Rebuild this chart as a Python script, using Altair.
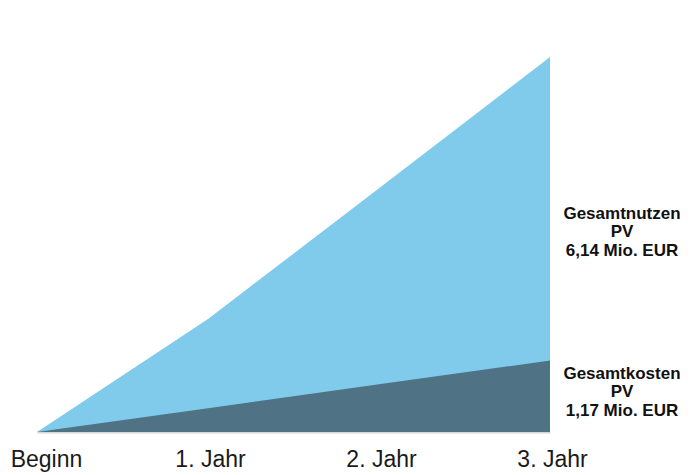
import altair as alt
import pandas as pd

# Data
periods = [0, 1, 2, 3]
period_labels = ["Beginn", "1. Jahr", "2. Jahr", "3. Jahr"]
nutzen = [0.0, 1.85, 3.99, 6.14]   # Gesamtnutzen PV (Mio. EUR, cumulative)
kosten = [0.0, 0.39, 0.78, 1.17]   # Gesamtkosten PV (Mio. EUR, cumulative)
label_texts = [
    "Gesamtnutzen\nPV\n6,14 Mio. EUR",
    "Gesamtkosten\nPV\n1,17 Mio. EUR",
]

df = pd.DataFrame({"t": periods, "nutzen": nutzen, "kosten": kosten})

label_expr = "datum.value == 0 ? 'Beginn' : datum.value + '. Jahr'"

x = alt.X(
    "t:Q",
    scale=alt.Scale(domain=[0, 3], nice=False, zero=False),
    axis=alt.Axis(
        values=periods,
        labelExpr=label_expr,
        title=None,
        ticks=False,
        grid=False,
        domain=True,
        domainColor="#d6d6d6",
        domainWidth=2,
        labelFont="Liberation Sans",
        labelFontSize=23,
        labelColor="#1a1a1a",
        labelPadding=16,
        labelFlush=False,
        labelOffset={"condition": {"test": "datum.value == 0", "value": 9}, "value": 2},
    ),
)
y_scale = alt.Scale(domain=[0, 6.14], nice=False)

base = alt.Chart(df)

benefit = base.mark_area(color="#80cbeb", opacity=1).encode(
    x=x,
    y=alt.Y("nutzen:Q", scale=y_scale, axis=None),
)
cost = base.mark_area(color="#4f7384", opacity=1).encode(
    x=x,
    y=alt.Y("kosten:Q", scale=y_scale, axis=None),
)

ann = pd.DataFrame({
    "t": [3, 3],
    "v": [nutzen[-1], kosten[-1]],
    "txt": label_texts,
})

text_style = dict(
    font="Liberation Sans", fontSize=17, fontWeight="bold", color="#111111",
    align="center", baseline="alphabetic", lineBreak="\n", lineHeight=18.5,
    dx=72,
)

text_n = alt.Chart(ann.iloc[[0]]).mark_text(dy=161.5, **text_style).encode(
    x=alt.X("t:Q"), y=alt.Y("v:Q"), text="txt:N"
)
text_k = alt.Chart(ann.iloc[[1]]).mark_text(dy=18, **text_style).encode(
    x=alt.X("t:Q"), y=alt.Y("v:Q"), text="txt:N"
)

chart = alt.layer(benefit, cost, text_n, text_k).properties(
    width=513,
    height=375,
    padding={"left": 37, "top": 57, "right": 142, "bottom": 43},
    autosize=alt.AutoSizeParams(type="none"),
    background="white",
).configure_view(stroke=None)

chart.save("out.html", embed_options={"renderer": "svg", "actions": False})
